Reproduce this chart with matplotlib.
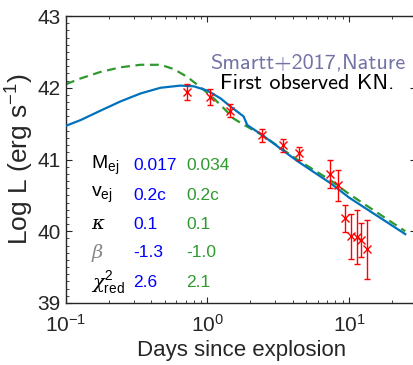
import matplotlib
matplotlib.use("Agg")
import matplotlib.pyplot as plt
import numpy as np
from matplotlib.ticker import MultipleLocator, LogLocator, NullFormatter

plt.rcParams['font.family'] = ['Liberation Sans', 'DejaVu Sans']
plt.rcParams['mathtext.fontset'] = 'custom'
plt.rcParams['mathtext.rm'] = 'Liberation Sans'
plt.rcParams['mathtext.it'] = 'DejaVu Serif:italic'
plt.rcParams['mathtext.bf'] = 'Liberation Sans:bold'

# ---- data ----
t_obs = [0.72, 1.04, 1.45, 2.41, 3.41, 4.42, 7.40, 8.33, 9.34, 10.4, 11.4, 12.2, 13.4]
L_obs = [41.945, 41.875, 41.68, 41.34, 41.20, 41.09, 40.80, 40.64, 40.18, 39.93, 39.92, 39.88, 39.75]
L_err = [0.11, 0.11, 0.09, 0.09, 0.09, 0.09, 0.20, 0.22, 0.19, 0.31, 0.37, 0.24, 0.41]

t_blue = [0.1, 0.127, 0.175, 0.243, 0.336, 0.466, 0.645, 0.80, 1.0, 1.24, 1.45, 1.80, 1.91, 2.44, 4.3, 7.4, 10, 25]
L_blue = [41.47, 41.55, 41.68, 41.81, 41.92, 42.00, 42.03, 42.02, 41.96, 41.85, 41.74, 41.60, 41.48, 41.34, 40.98, 40.67, 40.47, 39.96]

t_green = [0.1, 0.127, 0.175, 0.243, 0.336, 0.466, 0.578, 0.72, 0.89, 1.11, 1.34, 1.53, 1.86, 2.44, 4.3, 7.4, 10, 25]
L_green = [42.05, 42.13, 42.22, 42.285, 42.32, 42.32, 42.26, 42.15, 42.01, 41.85, 41.69, 41.57, 41.47, 41.34, 41.0, 40.71, 40.52, 40.0]

param_labels = [r'M$_{\mathrm{ej}}$', r'v$_{\mathrm{ej}}$', r'$\kappa$', r'$\beta$', r'$\chi^2_{\mathrm{red}}$']
blue_vals = ['0.017', '0.2c', '0.1', '-1.3', '2.6']
green_vals = ['0.034', '0.2c', '0.1', '-1.0', '2.1']

BLUE = '#0072BD'
GREEN = '#2E9A2E'
AXC = '#262626'

fig = plt.figure(figsize=(4.14, 3.65), dpi=100)
ax = fig.add_axes([66/414, 62/365, 350.5/414, 287/365])

ax.plot(t_blue, L_blue, color=BLUE, lw=1.6, zorder=3)
ax.plot(t_green, L_green, color=GREEN, lw=1.6, ls=(0, (4, 2.5)), zorder=2)
ax.errorbar(t_obs, L_obs, yerr=L_err, fmt='x', color='red', ecolor='red',
            markersize=6, mew=1.0, elinewidth=1.0, capsize=2.2, capthick=1.0, zorder=4)

ax.set_xscale('log')
ax.set_xlim(0.1, 30)
ax.set_ylim(39, 43)
ax.yaxis.set_major_locator(MultipleLocator(1))
ax.yaxis.set_minor_locator(MultipleLocator(0.1))
ax.xaxis.set_minor_locator(LogLocator(base=10, subs=np.arange(2, 10)))
ax.xaxis.set_minor_formatter(NullFormatter())

for s in ax.spines.values():
    s.set_color(AXC)
    s.set_linewidth(1.0)
ax.tick_params(which='both', direction='in', top=True, right=True, colors=AXC, labelsize=15)
ax.tick_params(which='major', length=4.5, width=0.8)
ax.tick_params(axis='y', which='major', pad=4)
ax.tick_params(axis='x', which='major', pad=8)
ax.tick_params(which='minor', length=2.5, width=0.6)

ax.set_xlabel('Days since explosion', fontsize=16, color=AXC, labelpad=3)
ax.set_ylabel(r'Log L (erg s$^{-1}$)', fontsize=19, color=AXC, labelpad=1)

row_y = [40.92, 40.505, 40.09, 39.70, 39.29]
for lab, bv, gv, y in zip(param_labels, blue_vals, green_vals, row_y):
    col = '#888888' if lab == r'$\beta$' else 'black'
    ax.text(0.149, y, lab, color=col, fontsize=14, va='center', ha='left')
    ax.text(0.298, y, bv, color='blue', fontsize=12.5, va='center', ha='left')
    ax.text(0.711, y, gv, color=GREEN, fontsize=12.5, va='center', ha='left')

ax.text(5.09, 42.345, 'Smartt+2017,Nature', family='cmss10', color='#7373A6',
        fontsize=16, ha='center', va='center')
ax.text(5.09, 42.066, 'First observed KN.', family='cmss10', color='black',
        fontsize=16, ha='center', va='center')

fig.savefig('out.png', dpi=100)
